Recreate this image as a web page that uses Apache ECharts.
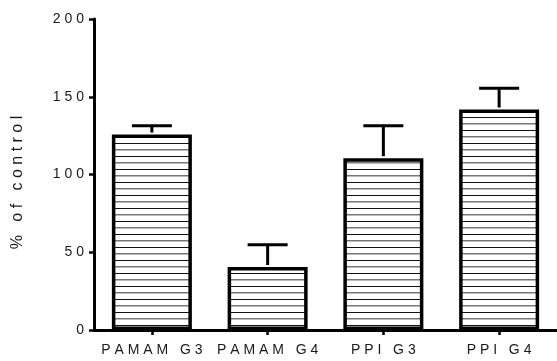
<!DOCTYPE html>
<html>
<head>
<meta charset="utf-8">
<script src="https://cdn.jsdelivr.net/npm/echarts@6/dist/echarts.min.js"></script>
<style>
  html, body { margin: 0; padding: 0; background: #fff; }
  #chart { width: 557px; height: 361px; }
</style>
</head>
<body>
<div id="chart"></div>
<script>
// Viability of cells treated with dendrimers, as % of untreated control
const categories = ['PAMAM G3', 'PAMAM G4', 'PPI G3', 'PPI G4'];
const meanValues = [125.7, 40.5, 110.5, 141.8];
const upperError = [131.4, 54.8, 131.4, 155.4];
const yTicks = [0, 50, 100, 150, 200];

// Spread characters apart the way the axis text is set
function spaced(s, sep) {
  return s.split('').join(sep || ' ');
}

// Horizontal line hatch used to fill the bars
function hatchPattern() {
  const c = document.createElement('canvas');
  c.width = 4;
  c.height = 13;
  const g = c.getContext('2d');
  g.fillStyle = '#fff';
  g.fillRect(0, 0, 4, 13);
  g.fillStyle = '#111';
  g.fillRect(0, 0, 4, 1);
  g.fillStyle = '#777';
  g.fillRect(0, 6, 4, 1);
  g.fillStyle = '#bbb';
  g.fillRect(0, 7, 4, 1);
  return c;
}

const chart = echarts.init(document.getElementById('chart'), null, { renderer: 'canvas' });
const font = 'Liberation Sans, Arial, sans-serif';

chart.setOption({
  animation: false,
  grid: { left: 94, right: -7, top: 19, bottom: 31, containLabel: false },
  xAxis: {
    type: 'category',
    data: categories,
    axisLine: { show: true, lineStyle: { color: '#000', width: 3 } },
    axisTick: { show: true, alignWithLabel: true, length: 5, lineStyle: { color: '#000', width: 2.5 } },
    axisLabel: {
      color: '#1a1a1a', fontFamily: font, fontSize: 14, margin: 13,
      interval: 0, hideOverlap: false,
      formatter: v => spaced(v)
    }
  },
  yAxis: {
    type: 'value',
    min: 0, max: 200, interval: 50,
    name: spaced('% of control'),
    nameLocation: 'middle',
    nameGap: 68,
    nameTextStyle: { color: '#1a1a1a', fontFamily: font, fontSize: 16, padding: [0, 16, 0, 0] },
    splitLine: { show: false },
    axisLine: { show: true, lineStyle: { color: '#000', width: 3 } },
    axisTick: { show: true, length: 5, lineStyle: { color: '#000', width: 2.5 } },
    axisLabel: {
      color: '#1a1a1a', fontFamily: font, fontSize: 14, margin: 10,
      formatter: v => yTicks.indexOf(v) >= 0 ? spaced(String(v)) : ''
    }
  },
  series: [
    {
      type: 'bar',
      data: meanValues,
      barWidth: 80,
      itemStyle: {
        color: { image: hatchPattern(), repeat: 'repeat' },
        borderColor: '#000',
        borderWidth: 3.5
      },
      z: 2
    },
    {
      type: 'custom',
      data: categories.map((c, i) => [i, meanValues[i], upperError[i]]),
      z: 3,
      renderItem: function (params, api) {
        const base = api.coord([api.value(0), api.value(1)]);
        const top = api.coord([api.value(0), api.value(2)]);
        const half = 20;
        const style = { stroke: '#000', lineWidth: 3 };
        return {
          type: 'group',
          children: [
            { type: 'line', shape: { x1: base[0], y1: base[1] - 2, x2: top[0], y2: top[1] }, style: style },
            { type: 'line', shape: { x1: top[0] - half, y1: top[1], x2: top[0] + half, y2: top[1] }, style: style }
          ]
        };
      }
    }
  ]
});
</script>
</body>
</html>
